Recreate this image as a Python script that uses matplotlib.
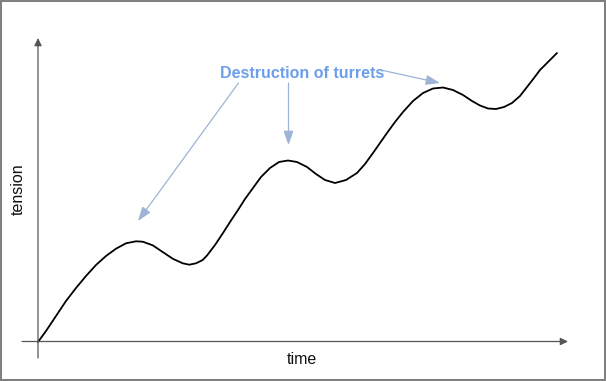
import matplotlib
matplotlib.use("Agg")
import matplotlib.pyplot as plt
from matplotlib.patches import Rectangle

# Curve (time, tension), origin at the axes' crossing
time = [0, 8, 18, 28, 38, 48, 58, 68, 78, 88, 98, 104.7, 114.7, 124.7, 134.7,
        144.7, 151.3, 158, 164.7, 169, 177, 185, 192, 200, 207, 215, 223, 232,
        241, 250, 259, 269, 278, 287, 297, 308, 319, 327, 335, 342, 349, 357,
        365, 375, 385, 395, 405, 415, 425, 434, 442, 450, 458, 466, 474, 482,
        489, 496, 502, 510, 519]
tension = [0, 11, 26, 41, 54, 66, 77, 86, 93.3, 98.7, 100.7, 100.3, 96.7, 90,
           83.3, 78.7, 77.3, 78.7, 82, 86.5, 97, 109, 120, 132, 143, 154, 165,
           174, 180, 181.5, 180, 175, 168, 162, 159, 162, 169, 178, 189, 199,
           209, 220, 230, 241, 249, 253.5, 254.5, 252, 247, 241, 236.5, 233.5,
           233, 235, 239, 246, 255, 264, 272, 280, 289]

annotation_text = "Destruction of turrets"
x_label = "time"
y_label = "tension"

plt.rcParams['font.family'] = ['Liberation Sans', 'DejaVu Sans']

fig = plt.figure(figsize=(6.06, 3.81), dpi=100)
ax = fig.add_axes([0, 0, 1, 1])
ax.set_xlim(-38, 568)
ax.set_ylim(-39, 342)
ax.axis('off')

axis_color = '#555555'
# axes with arrows
ax.annotate('', xy=(0, 304), xytext=(0, -16),
            arrowprops=dict(arrowstyle='-|>,head_length=0.45,head_width=0.22',
                            mutation_scale=10, color=axis_color, lw=0.9,
                            shrinkA=0, shrinkB=0))
ax.annotate('', xy=(530, 0.5), xytext=(-16, 0.5),
            arrowprops=dict(arrowstyle='-|>,head_length=0.45,head_width=0.22',
                            mutation_scale=10, color=axis_color, lw=0.9,
                            shrinkA=0, shrinkB=0))

ax.plot(time, tension, color='black', lw=1.3, solid_joinstyle='round',
        solid_capstyle='round')

ax.text(264, -17, x_label, ha='center', va='center', fontsize=11.5, color='#111111')
ax.text(-20, 153, y_label, ha='center', va='center', rotation=90,
        fontsize=11.5, color='#111111')

ax.text(264.5, 269, annotation_text, ha='center', va='center', fontsize=11.5,
        fontweight='bold', color='#6d9eeb')

arrow_color = '#9db4d6'
arrow_kw = dict(arrowstyle='-|>,head_length=0.85,head_width=0.3',
                mutation_scale=10, color=arrow_color, lw=0.9,
                shrinkA=0, shrinkB=0)
ax.annotate('', xy=(100, 121), xytext=(200.5, 259), arrowprops=arrow_kw)
ax.annotate('', xy=(250.5, 197), xytext=(250.5, 259), arrowprops=arrow_kw)
ax.annotate('', xy=(402, 259), xytext=(345, 271.5), arrowprops=arrow_kw)

fig.patches.append(Rectangle((0, 0), 1, 1, transform=fig.transFigure,
                             fill=False, edgecolor='#808080', lw=2.9))

fig.savefig('out.png', dpi=100, facecolor='white')
